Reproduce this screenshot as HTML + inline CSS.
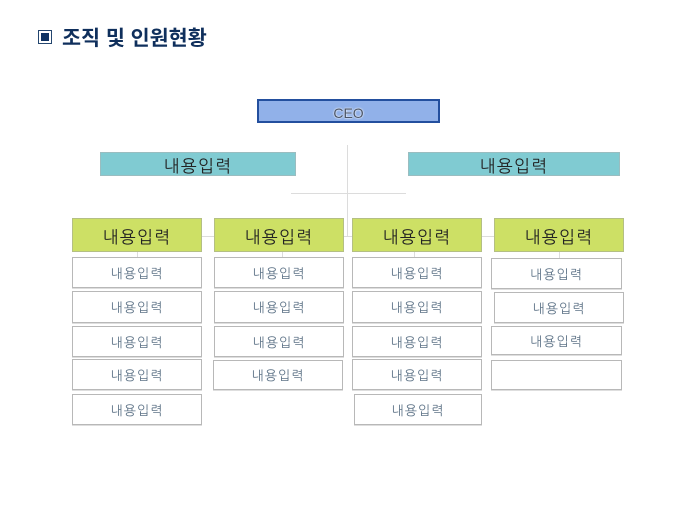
<!DOCTYPE html>
<html lang="ko"><head><meta charset="utf-8"><style>
html,body{margin:0;padding:0;background:#fff}
#p{position:relative;width:680px;height:510px;overflow:hidden;background:#fff;font-family:"Liberation Sans","NanumGothic","Noto Sans CJK KR",sans-serif}
.b,.l{position:absolute;box-sizing:border-box}
.b{display:flex;align-items:center;justify-content:center;white-space:nowrap}
.l{background:#dcdcdc}
.w{border:1px solid #b8b8b8;box-shadow:0 1px 0 #dedede;background:#fff;color:#5f7488;font-size:13px;letter-spacing:1px;padding-top:2px}
.g{background:#cde065;border:1px solid #b4bf84;color:#222;font-size:17px;letter-spacing:1.2px;padding-top:4px}
.t{background:#80cbd2;border:1px solid #9abdc0;color:#222;font-size:17px;letter-spacing:1.2px;padding-top:4px}
</style></head><body><div id="p">
<div class="b" style="left:38px;top:30px;width:14px;height:14px;border:1px solid #24466f"><div style="width:8px;height:8px;background:#0f3263"></div></div>
<div style="position:absolute;left:62px;top:25px;font-family:'Liberation Sans','Noto Sans CJK KR',sans-serif;font-size:20.7px;font-weight:bold;color:#0f2f5c;white-space:nowrap;line-height:28px">조직 및 인원현황</div>

<div class="l" style="left:347px;top:145px;width:1px;height:91px"></div>
<div class="l" style="left:291px;top:193px;width:115px;height:1px"></div>
<div class="l" style="left:202px;top:236px;width:12px;height:1px"></div>
<div class="l" style="left:344px;top:236px;width:8px;height:1px"></div>
<div class="l" style="left:482px;top:236px;width:12px;height:1px"></div>
<div class="l" style="left:137px;top:252px;width:1px;height:6px"></div>
<div class="l" style="left:282px;top:252px;width:1px;height:6px"></div>
<div class="l" style="left:414px;top:252px;width:1px;height:6px"></div>
<div class="l" style="left:559px;top:252px;width:1px;height:6px"></div>

<div class="b" style="left:257px;top:99px;width:183px;height:24px;background:#91b1e9;border:2px solid #234f9e;color:#4a5568;font-size:14px;padding-top:3px;text-shadow:0 0 2px #fff,0 0 1px #fff">CEO</div>
<div class="b t" style="left:100px;top:152px;width:196px;height:24px">내용입력</div>
<div class="b t" style="left:408px;top:152px;width:212px;height:24px">내용입력</div>

<div class="b g" style="left:72px;top:218px;width:130px;height:34px">내용입력</div>
<div class="b g" style="left:214px;top:218px;width:130px;height:34px">내용입력</div>
<div class="b g" style="left:352px;top:218px;width:130px;height:34px">내용입력</div>
<div class="b g" style="left:494px;top:218px;width:130px;height:34px">내용입력</div>

<div class="b w" style="left:72px;top:257px;width:130px;height:31px">내용입력</div>
<div class="b w" style="left:72px;top:291px;width:130px;height:32px">내용입력</div>
<div class="b w" style="left:72px;top:326px;width:130px;height:31px">내용입력</div>
<div class="b w" style="left:72px;top:359px;width:130px;height:31px">내용입력</div>
<div class="b w" style="left:72px;top:394px;width:130px;height:31px">내용입력</div>

<div class="b w" style="left:214px;top:257px;width:130px;height:31px">내용입력</div>
<div class="b w" style="left:214px;top:291px;width:130px;height:32px">내용입력</div>
<div class="b w" style="left:214px;top:326px;width:130px;height:31px">내용입력</div>
<div class="b w" style="left:213px;top:360px;width:130px;height:30px">내용입력</div>

<div class="b w" style="left:352px;top:257px;width:130px;height:31px">내용입력</div>
<div class="b w" style="left:352px;top:291px;width:130px;height:32px">내용입력</div>
<div class="b w" style="left:352px;top:326px;width:130px;height:31px">내용입력</div>
<div class="b w" style="left:352px;top:359px;width:130px;height:31px">내용입력</div>
<div class="b w" style="left:354px;top:394px;width:128px;height:31px">내용입력</div>

<div class="b w" style="left:491px;top:258px;width:131px;height:31px">내용입력</div>
<div class="b w" style="left:494px;top:292px;width:130px;height:31px">내용입력</div>
<div class="b w" style="left:491px;top:326px;width:131px;height:29px">내용입력</div>
<div class="b w" style="left:491px;top:360px;width:131px;height:30px"></div>
</div></body></html>
